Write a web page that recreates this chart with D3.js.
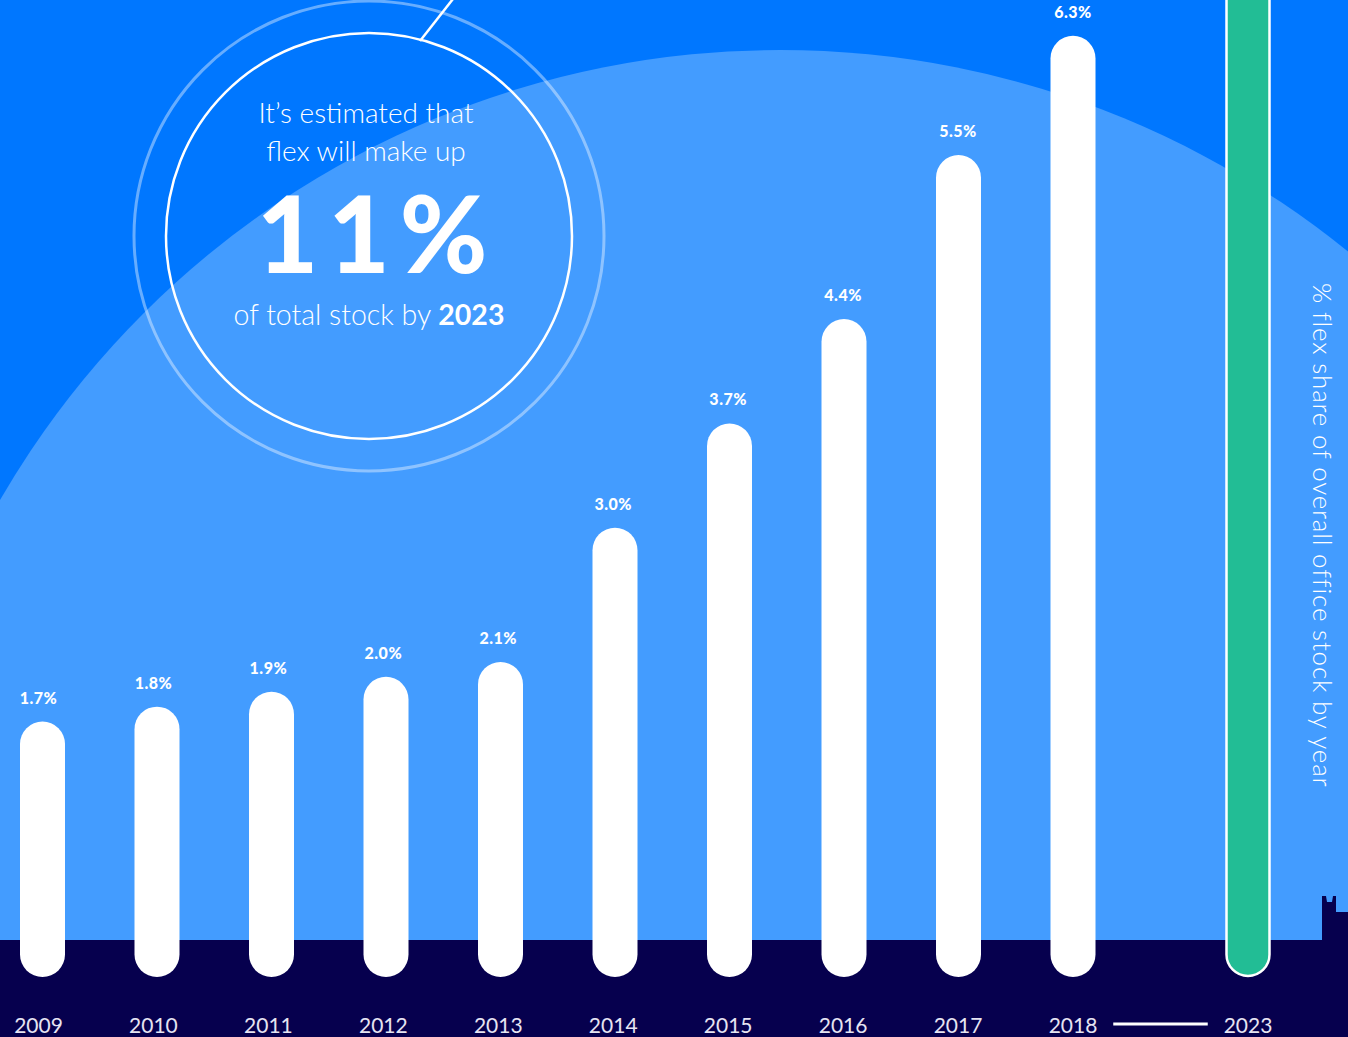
<!DOCTYPE html>
<html>
<head>
<meta charset="utf-8">
<script src="https://cdn.jsdelivr.net/npm/d3@7"></script>
<style>
  html, body { margin: 0; padding: 0; background: #0077ff; overflow: hidden; }
  svg { display: block; font-family: Lato, "Noto Sans", sans-serif; }
</style>
</head>
<body>
<script>
// Data
const years = [2009, 2010, 2011, 2012, 2013, 2014, 2015, 2016, 2017, 2018];
const shares = [1.7, 1.8, 1.9, 2.0, 2.1, 3.0, 3.7, 4.4, 5.5, 6.3];
const forecastYear = 2023;
const forecastShare = 11;
const shareLabels = ['1.7%', '1.8%', '1.9%', '2.0%', '2.1%', '3.0%', '3.7%', '4.4%', '5.5%', '6.3%'];

// Dimensions
const width = 1348;
const height = 1037;
const groundY = 940;
const barBottom = 977;
const barWidth = 45;

const svg = d3.select('body')
  .append('svg')
  .attr('width', width)
  .attr('height', height);

// Background: big light arc + dark ground
svg.append('rect')
  .attr('width', width)
  .attr('height', height)
  .attr('fill', '#0077ff');

svg.append('circle')
  .attr('cx', 780)
  .attr('cy', 951)
  .attr('r', 901)
  .attr('fill', '#439cff');

svg.append('path')
  .attr('d', `M0,${groundY} L1322,${groundY} L1322,896 L1326,896 L1327,902 L1332,902 L1333,896 L1336,896 L1336,912 L${width},912 L${width},${height} L0,${height} Z`)
  .attr('fill', '#06004e');

// Scales
const xScale = d3.scaleLinear()
  .domain([2009, 2018])
  .range([42.5, 1073]);

// labels drift slightly left of the bars on the early years
const xLabel = d3.scaleLinear()
  .domain([2009, 2018])
  .range([38.5, 1073]);

// the jump from 2018 to the 2023 forecast is compressed
const xForecast = d3.scaleLinear()
  .domain([2018, 2023])
  .range([1073, 1248]);

const yScale = d3.scaleLinear()
  .domain([0, 6.5])
  .range([975, 6]);

// Bars
svg.selectAll('.bar')
  .data(years)
  .enter()
  .append('rect')
  .attr('class', 'bar')
  .attr('x', d => xScale(d) - barWidth / 2)
  .attr('y', (d, i) => yScale(shares[i]))
  .attr('width', barWidth)
  .attr('height', (d, i) => barBottom - yScale(shares[i]))
  .attr('rx', barWidth / 2)
  .attr('fill', '#ffffff');

// Forecast bar (runs off the top)
svg.append('rect')
  .attr('x', xForecast(forecastYear) - barWidth / 2 + 1)
  .attr('y', yScale(forecastShare))
  .attr('width', barWidth - 2)
  .attr('height', barBottom - 1 - yScale(forecastShare))
  .attr('rx', barWidth / 2 - 1)
  .attr('fill', '#22bd95')
  .attr('stroke', '#ffffff')
  .attr('stroke-width', 2.5);

// Value labels
svg.selectAll('.value')
  .data(years)
  .enter()
  .append('text')
  .attr('class', 'value')
  .attr('x', d => xLabel(d))
  .attr('y', (d, i) => yScale(shares[i]) - 18)
  .attr('text-anchor', 'middle')
  .attr('fill', '#ffffff')
  .attr('font-size', 16)
  .attr('font-weight', 900)
  .attr('letter-spacing', 0.5)
  .text((d, i) => shareLabels[i]);

// Year axis labels
const axisLabels = years.concat([forecastYear]);
svg.selectAll('.year')
  .data(axisLabels)
  .enter()
  .append('text')
  .attr('class', 'year')
  .attr('x', d => d === forecastYear ? xForecast(d) : xLabel(d))
  .attr('y', 1033)
  .attr('text-anchor', 'middle')
  .attr('fill', '#e6e4f2')
  .attr('font-size', 21)
  .text(d => d);

svg.append('line')
  .attr('x1', xForecast(2019.15))
  .attr('x2', xForecast(2021.85))
  .attr('y1', 1024)
  .attr('y2', 1024)
  .attr('stroke', '#ffffff')
  .attr('stroke-width', 3);

// Rotated axis title
svg.append('text')
  .attr('transform', 'translate(1313,283) rotate(90)')
  .attr('fill', '#ffffff')
  .attr('font-size', 26)
  .attr('font-weight', 300)
  .attr('letter-spacing', 0.8)
  .text('% flex share of overall office stock by year');

// Callout circle
const cx = 369, cy = 236;
svg.append('circle')
  .attr('cx', cx)
  .attr('cy', cy)
  .attr('r', 235)
  .attr('fill', 'none')
  .attr('stroke', '#ffffff')
  .attr('stroke-opacity', 0.4)
  .attr('stroke-width', 3);

svg.append('circle')
  .attr('cx', cx)
  .attr('cy', cy)
  .attr('r', 203)
  .attr('fill', 'none')
  .attr('stroke', '#ffffff')
  .attr('stroke-width', 2.5);

svg.append('line')
  .attr('x1', 420)
  .attr('y1', 41)
  .attr('x2', 460)
  .attr('y2', -10)
  .attr('stroke', '#ffffff')
  .attr('stroke-width', 2.5);

const callout = svg.append('g')
  .attr('fill', '#ffffff')
  .attr('text-anchor', 'middle');

callout.append('text')
  .attr('x', 366)
  .attr('y', 123)
  .attr('font-size', 28)
  .attr('font-weight', 300)
  .text('It’s estimated that');

callout.append('text')
  .attr('x', 366)
  .attr('y', 161)
  .attr('font-size', 28)
  .attr('font-weight', 300)
  .text('flex will make up');

callout.append('text')
  .attr('x', 377)
  .attr('y', 273)
  .attr('font-size', 106)
  .attr('font-weight', 900)
  .attr('letter-spacing', 10)
  .text('11%');

const last = callout.append('text')
  .attr('x', 369)
  .attr('y', 325)
  .attr('font-size', 28.5)
  .attr('font-weight', 300);
last.append('tspan').text('of total stock by ');
last.append('tspan').attr('font-weight', 700).text('2023');
</script>
</body>
</html>
